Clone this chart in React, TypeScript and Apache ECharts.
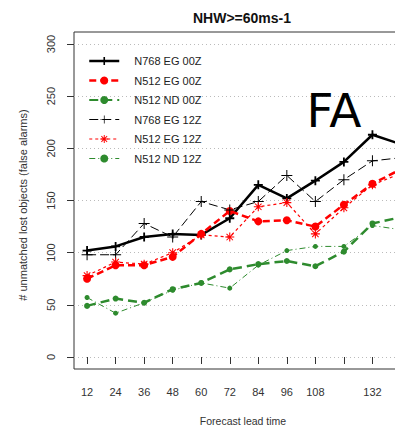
import React, { useEffect, useRef } from "react";
import * as echarts from "echarts";

const leadTimes = [12, 24, 36, 48, 60, 72, 84, 96, 108, 120, 132, 144];
const xTickValues = [12, 24, 36, 48, 60, 72, 84, 96, 108, 120, 132, 144];
const xLabelValues = [12, 24, 36, 48, 60, 72, 84, 96, 108, 132];
const yTickValues = [0, 50, 100, 150, 200, 250, 300];

const seriesNames = [
  "N768 EG 00Z",
  "N512 EG 00Z",
  "N512 ND 00Z",
  "N768 EG 12Z",
  "N512 EG 12Z",
  "N512 ND 12Z",
];

const n768eg00 = [102, 106, 115, 118, 117, 133, 165, 152, 169, 187, 213, 204];
const n512eg00 = [75, 88, 88, 96, 118, 140, 130, 131, 125, 146, 166, 180];
const n512nd00 = [49, 56, 52, 65, 71, 84, 89, 92, 87, 101, 128, 134];
const n768eg12 = [98, 98, 128, 115, 149, 141, 149, 174, 149, 170, 188, 191];
const n512eg12 = [78, 91, 89, 100, 117, 115, 144, 148, 118, 143, 165, 176];
const n512nd12 = [57, 42, 52, 64, 71, 66, 88, 102, 106, 106, 126, 122];

const BLACK = "#000000";
const RED = "#ff0000";
const GREEN = "#2e8b2e";
const FONT = "'Liberation Sans', Arial, sans-serif";

const plusThick =
  "path://M-1,-5L1,-5L1,-1L5,-1L5,1L1,1L1,5L-1,5L-1,1L-5,1L-5,-1L-1,-1Z";
const plusThin =
  "path://M-0.45,-5L0.45,-5L0.45,-0.45L5,-0.45L5,0.45L0.45,0.45L0.45,5L-0.45,5L-0.45,0.45L-5,0.45L-5,-0.45L-0.45,-0.45Z";
const asterisk =
  "path://M-0.6,-5L0.6,-5L0.6,5L-0.6,5Z M-5,-0.6L5,-0.6L5,0.6L-5,0.6Z M-4,-3.2L-3.2,-4L4,3.2L3.2,4Z M3.2,-4L4,-3.2L-3.2,4L-4,3.2Z";

function pairs(vals: number[]) {
  return leadTimes.map((x, i) => [x, vals[i]]);
}

export default function App() {
  const ref = useRef<HTMLDivElement>(null);

  useEffect(() => {
    if (!ref.current) return;
    const chart = echarts.init(ref.current, undefined, { renderer: "svg" });

    const mk = (
      name: string,
      vals: number[],
      color: string,
      width: number,
      type: any,
      symbol: string,
      symbolSize: number
    ) => ({
      name,
      type: "line",
      data: pairs(vals),
      symbol,
      symbolSize,
      showSymbol: true,
      itemStyle: { color, borderWidth: 0 },
      lineStyle: { color, width, type },
      emphasis: { disabled: true },
    });

    chart.setOption({
      animation: false,
      textStyle: { fontFamily: FONT },
      grid: {
        left: 74,
        top: 32,
        width: 341,
        height: 337,
        show: true,
        borderColor: "#333",
        borderWidth: 1,
        backgroundColor: "transparent",
      },
      legend: {
        orient: "vertical",
        left: 83,
        top: 50.5,
        itemWidth: 30,
        itemHeight: 10,
        itemGap: 8.5,
        selectedMode: false,
        textStyle: {
          fontSize: 11,
          color: "#222",
          fontFamily: FONT,
          padding: [0, 0, 0, 10],
        },
        data: [
          { name: seriesNames[0], lineStyle: { width: 2.5 } },
          { name: seriesNames[1], lineStyle: { width: 2.5 } },
          { name: seriesNames[2], lineStyle: { width: 2 } },
          { name: seriesNames[3], lineStyle: { width: 1 } },
          { name: seriesNames[4], lineStyle: { width: 1.2 } },
          { name: seriesNames[5], lineStyle: { width: 1 } },
        ],
      },
      xAxis: {
        type: "value",
        min: 6.5,
        max: 149.9,
        axisLine: { show: false },
        axisTick: {
          show: true,
          length: 7,
          customValues: xTickValues,
          lineStyle: { color: "#333", width: 1 },
        },
        axisLabel: {
          customValues: xLabelValues,
          fontSize: 11,
          color: "#333",
          margin: 17,
          fontFamily: FONT,
        },
        splitLine: { show: false },
      },
      yAxis: {
        type: "value",
        min: -11.5,
        max: 311.5,
        axisLine: { show: false },
        axisTick: {
          show: true,
          length: 7,
          customValues: yTickValues,
          lineStyle: { color: "#333", width: 1 },
        },
        axisLabel: {
          customValues: yTickValues,
          fontSize: 11,
          color: "#333",
          rotate: 90,
          margin: 18,
          fontFamily: FONT,
        },
        splitLine: {
          show: true,
          lineStyle: { color: "#bbb", type: [1, 3], width: 1 },
        },
      },
      graphic: [
        {
          type: "text",
          x: 242,
          y: 18,
          style: {
            text: "NHW>=60ms-1",
            fontSize: 14,
            fontWeight: "bold",
            fontFamily: FONT,
            fill: "#111",
            textAlign: "center",
            textVerticalAlign: "middle",
          },
        },
        {
          type: "text",
          x: 334,
          y: 110,
          z: 10,
          style: {
            text: "FA",
            fontSize: 47,
            fontFamily: "'DejaVu Sans', sans-serif",
            fill: "#000",
            textAlign: "center",
            textVerticalAlign: "middle",
          },
        },
        {
          type: "text",
          x: 23,
          y: 205,
          rotation: Math.PI / 2,
          style: {
            text: "# unmatched lost objects (false alarms)",
            fontSize: 11,
            fontFamily: FONT,
            fill: "#333",
            textAlign: "center",
            textVerticalAlign: "middle",
          },
        },
        {
          type: "text",
          x: 243,
          y: 421,
          style: {
            text: "Forecast lead time",
            fontSize: 10.5,
            fontFamily: FONT,
            fill: "#333",
            textAlign: "center",
            textVerticalAlign: "middle",
          },
        },
      ],
      series: [
        mk(seriesNames[0], n768eg00, BLACK, 2.5, "solid", plusThick, 9),
        mk(seriesNames[1], n512eg00, RED, 2.5, [7, 4], "circle", 8),
        mk(seriesNames[2], n512nd00, GREEN, 2.5, [9, 5], "circle", 6),
        mk(seriesNames[3], n768eg12, BLACK, 1, [9, 4], plusThin, 11),
        mk(seriesNames[4], n512eg12, RED, 1.2, [3, 3], asterisk, 9),
        mk(seriesNames[5], n512nd12, GREEN, 1, [6, 3, 1, 3], "circle", 5),
      ],
    });

    return () => chart.dispose();
  }, []);

  return (
    <div
      style={{
        position: "fixed",
        left: 0,
        top: 0,
        width: 395,
        height: 430,
        overflow: "hidden",
        background: "#fff",
      }}
    >
      <div ref={ref} style={{ width: 430, height: 430 }} />
    </div>
  );
}
